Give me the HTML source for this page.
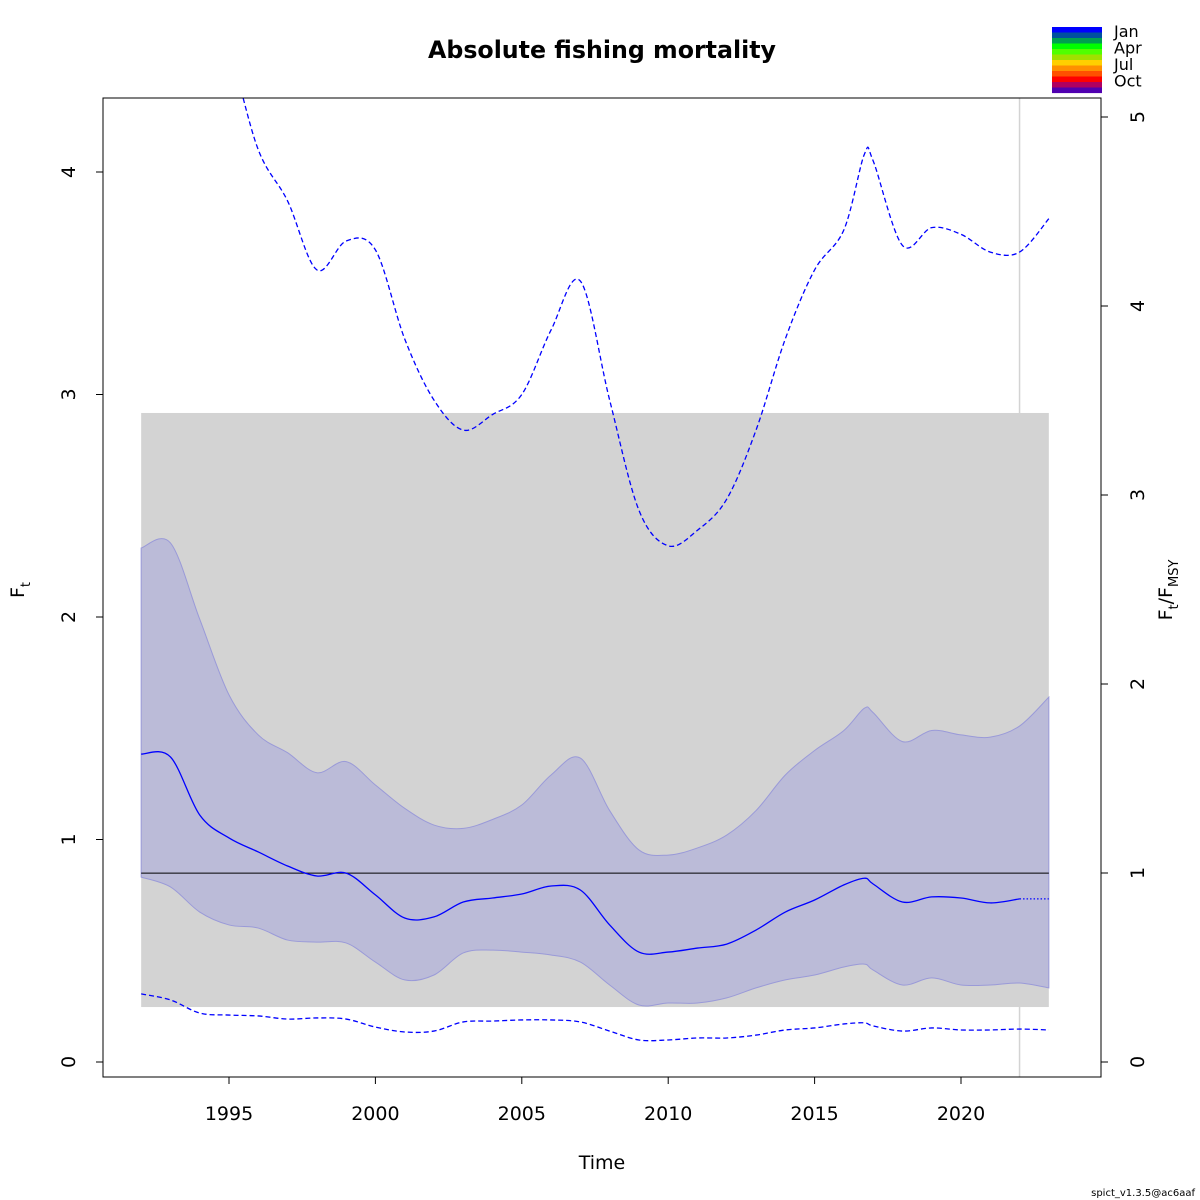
<!DOCTYPE html>
<html><head><meta charset="utf-8"><style>
html,body{margin:0;padding:0;background:#fff}
svg{display:block;font-family:"DejaVu Sans","Liberation Sans",sans-serif}
</style></head><body>
<svg id="chart" width="1200" height="1200" viewBox="0 0 1200 1200">
<text x="602" y="58" font-size="23.7" font-weight="bold" text-anchor="middle">Absolute fishing mortality</text>
<defs><clipPath id="clip"><rect x="103" y="98" width="998" height="979"/></clipPath></defs>
<g id="plot" clip-path="url(#clip)"></g>
<rect x="103" y="98" width="998" height="979" fill="none" stroke="#000" stroke-width="1"/>
<g id="axes"></g>
<text x="602" y="1169" font-size="19" text-anchor="middle">Time</text>
<text transform="translate(24,590) rotate(-90)" font-size="19" text-anchor="middle">F<tspan font-size="13" dy="6">t</tspan></text>
<text transform="translate(1172,590) rotate(-90)" font-size="19" text-anchor="middle">F<tspan font-size="13" dy="6">t</tspan><tspan dy="-6">/F</tspan><tspan font-size="13" dy="6">MSY</tspan></text>
<text x="1195" y="1196" font-size="10" text-anchor="end">spict_v1.3.5@ac6aaf</text>
<g id="legend"></g>
</svg>
<script>
const years=[1992,1993,1994,1995,1996,1997,1998,1999,2000,2001,2002,2003,2004,2005,2006,2007,2008,2009,2010,2011,2012,2013,2014,2015,2016,2016.7,2017,2018,2019,2020,2021,2022,2023];
const median=[1.384,1.371,1.110,1.007,0.944,0.881,0.836,0.849,0.751,0.647,0.652,0.719,0.737,0.755,0.791,0.773,0.616,0.494,0.494,0.512,0.530,0.593,0.674,0.728,0.796,0.826,0.800,0.719,0.742,0.737,0.715,0.733,0.733];
const upperCI=[2.31,2.333,1.99,1.65,1.47,1.39,1.30,1.35,1.245,1.14,1.065,1.05,1.09,1.155,1.29,1.366,1.13,0.953,0.93,0.962,1.02,1.13,1.29,1.40,1.49,1.59,1.57,1.44,1.49,1.47,1.46,1.51,1.64];
const lowerCI=[0.831,0.787,0.674,0.616,0.602,0.548,0.539,0.535,0.449,0.369,0.391,0.49,0.503,0.494,0.481,0.449,0.346,0.256,0.265,0.265,0.288,0.333,0.369,0.391,0.427,0.44,0.413,0.346,0.378,0.346,0.346,0.355,0.333];
const upperDash=[5.2,4.9,4.8,4.55,4.10,3.87,3.56,3.69,3.65,3.25,2.975,2.84,2.91,3.0,3.29,3.51,2.975,2.48,2.32,2.39,2.53,2.84,3.25,3.56,3.74,4.08,4.05,3.67,3.75,3.72,3.64,3.64,3.79];
const lowerDash=[0.306,0.279,0.22,0.211,0.207,0.193,0.198,0.193,0.157,0.135,0.139,0.18,0.184,0.189,0.189,0.18,0.139,0.099,0.099,0.108,0.108,0.121,0.144,0.153,0.171,0.176,0.162,0.139,0.153,0.144,0.144,0.148,0.144];
const fmsy=0.849;
const fmsyBand=[0.247,2.917];
const xTicks=[1995,2000,2005,2010,2015,2020];
const yTicks=[0,1,2,3,4];
const y2Ticks=[0,1,2,3,4,5];
const months=["Jan","Apr","Jul","Oct"];
const NS="http://www.w3.org/2000/svg";
const X=y=>229+(y-1995)*29.28;
const Y=v=>1062-v*222.5;
const Y2=v=>1062-v*189;
function mk(tag,attrs,parent){const e=document.createElementNS(NS,tag);for(const k in attrs)e.setAttribute(k,attrs[k]);parent.appendChild(e);return e;}
function smooth(pts){let d=`M${pts[0][0]},${pts[0][1]}`;for(let i=0;i<pts.length-1;i++){const p0=pts[Math.max(i-1,0)],p1=pts[i],p2=pts[i+1],p3=pts[Math.min(i+2,pts.length-1)];
d+=` C${p1[0]+(p2[0]-p0[0])/6},${p1[1]+(p2[1]-p0[1])/6} ${p2[0]-(p3[0]-p1[0])/6},${p2[1]-(p3[1]-p1[1])/6} ${p2[0]},${p2[1]}`;}return d;}
const pts=arr=>years.map((y,i)=>[X(y),Y(arr[i])]);
const plot=document.getElementById('plot');
let e=mk('rect',{x:X(1992),y:Y(fmsyBand[1]),width:X(2023)-X(1992),height:Y(fmsyBand[0])-Y(fmsyBand[1]),fill:'#d3d3d3'},plot);


e=mk('line',{x1:X(2022),x2:X(2022),y1:98,y2:1077,stroke:'#d3d3d3','stroke-width':1.5},plot);


const up=pts(upperCI),lo=pts(lowerCI).reverse();
const dUp=smooth(up),dLo=smooth(lo).replace('M','L');
e=mk('path',{d:dUp+' '+dLo+' Z',fill:'#bbbbd8',stroke:'#9a9ad8','stroke-width':1},plot);


e=mk('line',{x1:X(1992),x2:X(2023),y1:Y(fmsy),y2:Y(fmsy),stroke:'#000','stroke-width':1},plot);


e=mk('path',{d:smooth(pts(upperDash)),fill:'none',stroke:'#0000ff','stroke-width':1.3,'stroke-dasharray':'5,3'},plot);


e=mk('path',{d:smooth(pts(lowerDash)),fill:'none',stroke:'#0000ff','stroke-width':1.3,'stroke-dasharray':'5,3'},plot);


const mp=pts(median),n=years.length;
e=mk('path',{d:smooth(mp.slice(0,n-1)),fill:'none',stroke:'#0000ff','stroke-width':1.3},plot);


e=mk('path',{d:`M${mp[n-2][0]},${mp[n-2][1]} L${mp[n-1][0]},${mp[n-1][1]}`,fill:'none',stroke:'#0000ff','stroke-width':1.3,'stroke-dasharray':'1.5,2'},plot);


const ax=document.getElementById('axes');
xTicks.forEach(t=>{mk('line',{x1:X(t),x2:X(t),y1:1077,y2:1084,stroke:'#000'},ax);
e=mk('text',{x:X(t),y:1120,'font-size':19,'text-anchor':'middle'},ax);e.textContent=t;

});
yTicks.forEach(t=>{mk('line',{x1:96,x2:103,y1:Y(t),y2:Y(t),stroke:'#000'},ax);
e=mk('text',{transform:`translate(75,${Y(t)}) rotate(-90)`,'font-size':19,'text-anchor':'middle'},ax);e.textContent=t;

});
y2Ticks.forEach(t=>{mk('line',{x1:1101,x2:1108,y1:Y2(t),y2:Y2(t),stroke:'#000'},ax);
e=mk('text',{transform:`translate(1144,${Y2(t)}) rotate(-90)`,'font-size':19,'text-anchor':'middle'},ax);e.textContent=t;

});
const lg=document.getElementById('legend');
const cols=['#0000ff','#0050a0','#00a050','#00ff00','#50ff00','#a0e000','#ffd000','#ff9000','#ff5000','#ff0000','#b00060','#5000b0'];
cols.forEach((c,i)=>{e=mk('rect',{x:1052,y:27+i*5.5,width:50,height:5.6,fill:c},lg);

});
months.forEach((m,i)=>{e=mk('text',{x:1114,y:37+i*16.5,'font-size':16},lg);e.textContent=m;

});
</script>
</body></html>
